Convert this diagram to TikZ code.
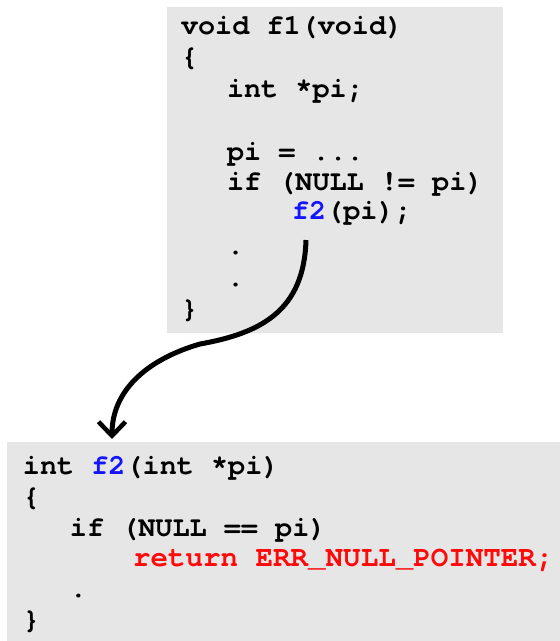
\documentclass[tikz,border=0pt]{standalone}
\usepackage{fontspec}
\newfontfamily\courfont{TeX Gyre Cursor}
\usetikzlibrary{arrows.meta}
\definecolor{boxgray}{RGB}{230,230,230}
\definecolor{fblue}{RGB}{20,20,255}
\definecolor{fred}{RGB}{255,10,10}
\tikzset{
  codebox/.style={fill=boxgray, draw=none, rectangle, inner sep=0pt, anchor=north west},
  code/.style={anchor=base west, inner sep=0pt, outer sep=0pt,
    font=\fontsize{28.5}{31}\selectfont\courfont\bfseries},
  bigcode/.style={code, font=\fontsize{29.2}{31}\selectfont\courfont\bfseries},
  callarrow/.style={line width=5pt, -{Straight Barb[length=14pt,width=27pt,line width=4.5pt]}}
}
\begin{document}
\begin{tikzpicture}[x=1pt,y=-1pt]
\useasboundingbox (0,0) rectangle (560,641);
\node[codebox, minimum width=336pt, minimum height=326pt] (f1box) at (167,7) {};
\node[codebox, minimum width=553pt, minimum height=200pt] (f2box) at (7,442) {};
% f1
\node[code] (a1) at (181,34) {void f1(void)};
\node[code] (a2) at (181,65) {\{};
\node[code] (a3) at (227,97) {int *pi;};
\node[code] (a5) at (227,160) {pi = ...};
\node[code] (a6) at (227,190) {if (NULL != pi)};
\node[code] (a7) at (292,219) {\textcolor{fblue}{f2}(pi);};
\node[code] (a8) at (227,254) {.};
\node[code] (a9) at (227,286) {.};
\node[code] (a10) at (181,317) {\}};
% f2
\node[code] (b1) at (23,474) {int \textcolor{fblue}{f2}(int *pi)};
\node[code] (b2) at (23,505) {\{};
\node[code] (b3) at (70,536) {if (NULL == pi)};
\node[bigcode] (b4) at (133,566) {\textcolor{fred}{return ERR\_NULL\_POINTER;}};
\node[code] (b5) at (70,597) {.};
\node[code] (b6) at (23,628) {\}};
% arrow
\coordinate (start) at (306,240);
\coordinate (mid) at (200,344);
\coordinate (end) at (112,439);
\draw[callarrow] (start) .. controls (304,310) and (262,333) .. (mid)
  .. controls (145,360) and (112,392) .. (end);
\end{tikzpicture}
\end{document}
